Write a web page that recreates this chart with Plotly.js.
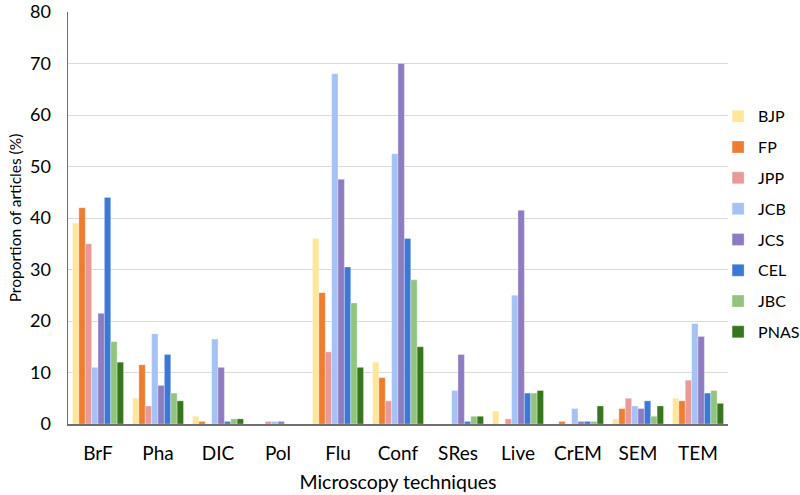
<!DOCTYPE html>
<html>
<head>
<meta charset="utf-8">
<script src="https://cdn.plot.ly/plotly-3.0.1.min.js"></script>
<style>html,body{margin:0;padding:0;background:#fff;}#chart{width:800px;height:495px;}</style>
</head>
<body>
<div id="chart"></div>
<script>
const categories = ["BrF", "Pha", "DIC", "Pol", "Flu", "Conf", "SRes", "Live", "CrEM", "SEM", "TEM"];
const seriesNames = ["BJP", "FP", "JPP", "JCB", "JCS", "CEL", "JBC", "PNAS"];
const BJP  = [39, 5, 1.5, 0, 36, 12, 0, 2.5, 0, 1, 5];
const FP   = [42, 11.5, 0.5, 0, 25.5, 9, 0, 0, 0.5, 3, 4.5];
const JPP  = [35, 3.5, 0, 0.5, 14, 4.5, 0, 1, 0, 5, 8.5];
const JCB  = [11, 17.5, 16.5, 0.5, 68, 52.5, 6.5, 25, 3, 3.5, 19.5];
const JCS  = [21.5, 7.5, 11, 0.5, 47.5, 70, 13.5, 41.5, 0.5, 3, 17];
const CEL  = [44, 13.5, 0.5, 0, 30.5, 36, 0.5, 6, 0.5, 4.5, 6];
const JBC  = [16, 6, 1, 0, 23.5, 28, 1.5, 6, 0.5, 1.5, 6.5];
const PNAS = [12, 4.5, 1, 0, 11, 15, 1.5, 6.5, 3.5, 3.5, 4];
const seriesValues = [BJP, FP, JPP, JCB, JCS, CEL, JBC, PNAS];
const colors = ["#FFE699", "#ED7D31", "#EA9999", "#A4C2F4", "#8E7CC3", "#3C78D8", "#93C47D", "#38761D"];

const font = "Lato, 'Open Sans', sans-serif";
const traces = seriesNames.map((name, i) => ({
  type: "bar",
  name: name,
  x: categories,
  y: seriesValues[i],
  legendgroup: name,
  marker: {color: colors[i], line: {color: "rgba(255,255,255,0.6)", width: 0.5}}
}));

const layout = {
  width: 800, height: 495,
  margin: {l: 68, r: 72, t: 12, b: 71, autoexpand: false},
  paper_bgcolor: "#fff", plot_bgcolor: "#fff",
  barmode: "group", bargap: 0.15, bargroupgap: 0,
  font: {family: font, color: "#000", size: 18},
  xaxis: {
    showline: true, linecolor: "#6f6f6f", linewidth: 1.5,
    ticks: "outside", ticklen: 12, tickcolor: "rgba(0,0,0,0)",
    tickfont: {size: 19, family: font},
    title: {text: "Microscopy techniques", font: {size: 19.5, family: font}, standoff: 12}
  },
  yaxis: {
    range: [0, 80], dtick: 10, showline: true, linecolor: "#6f6f6f", linewidth: 1.5,
    gridcolor: "#D9D9D9", gridwidth: 1, zeroline: false,
    ticks: "outside", ticklen: 12, tickcolor: "rgba(0,0,0,0)",
    tickfont: {size: 18, family: font}, ticklabeloverflow: "allow",
    title: {text: "Proportion of articles (%)", font: {size: 15.5, family: font}, standoff: 4}
  },
  legend: {
    x: 0.985, y: 0.788, xanchor: "left", yanchor: "top",
    font: {size: 16, family: font}, tracegroupgap: 7, itemwidth: 30,
    bgcolor: "rgba(0,0,0,0)"
  },
  showlegend: true
};

Plotly.newPlot("chart", traces, layout, {displayModeBar: false, staticPlot: true});
</script>
</body>
</html>
